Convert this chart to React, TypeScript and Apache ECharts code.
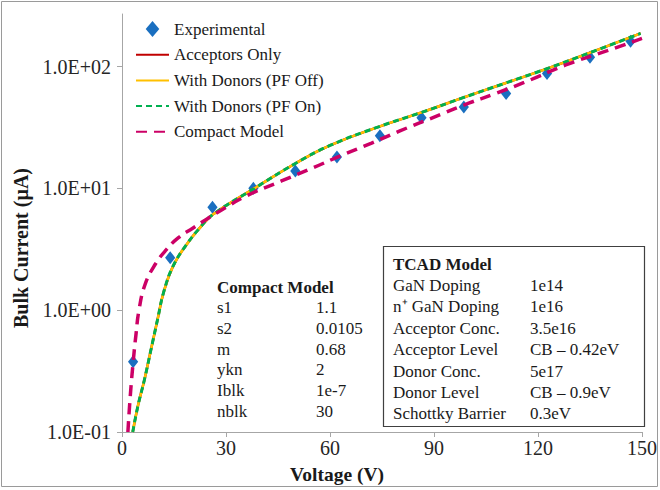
import React, { useEffect, useRef } from "react";
import * as echarts from "echarts";

// ---- data ----
const expVoltage = [3.2, 13.9, 26.1, 37.9, 50.0, 62.0, 74.4, 86.4, 98.6, 110.8, 122.6, 135.0, 146.7];
const expCurrent = [0.377, 2.7, 7.0, 10.0, 13.9, 18.1, 27, 38, 46.5, 60, 87.5, 119, 161];

const tcadVoltage = [3.1, 4.6, 6.5, 8.4, 10.3, 12.0, 14.7, 18.6, 22.4, 26.2, 38.2, 50.0, 60.0, 74.0, 86.4, 98.0, 110.5, 123.0, 135.0, 149.6];
const acceptorsOnly = [0.1, 0.164, 0.271, 0.48, 0.85, 1.4, 2.29, 3.45, 4.72, 6.1, 10.0, 16.0, 22.5, 32, 42, 55, 73, 97, 130, 187];
const donorsPfOff = [0.1, 0.164, 0.271, 0.48, 0.85, 1.4, 2.29, 3.45, 4.72, 6.1, 10.0, 16.0, 22.5, 32, 42, 55, 73, 97, 130, 187];
const donorsPfOn = [0.1, 0.164, 0.271, 0.48, 0.85, 1.4, 2.29, 3.45, 4.72, 6.1, 10.0, 16.0, 22.5, 32, 42, 55, 73, 97, 130, 187];

const compactVoltage = [1.7, 2.4, 3.2, 4.0, 4.9, 6.6, 9.5, 12.8, 16.2, 20.5, 24.3, 28.0, 36.0, 46.0, 55.0, 63.0, 72.0, 80.0, 92.0, 100.0, 107.0, 116.0, 128.0, 140.0, 150.0];
const compactCurrent = [0.1, 0.2, 0.37, 0.62, 1.0, 1.61, 2.36, 3.14, 3.92, 4.73, 5.56, 6.46, 8.7, 11.5, 14.7, 18.5, 23.5, 29.5, 40.5, 50, 59, 74, 103, 135, 170];

const yTickValues = [0.1, 1, 10, 100];
const xTicks = { min: 0, max: 150, interval: 30 };
const yRange = { min: 0.1, max: 270 };

const seriesNames = ["Experimental", "Acceptors Only", "With Donors (PF Off)", "With Donors (PF On)", "Compact Model"];

const compactTitle = "Compact Model";
const compactParams = ["s1", "s2", "m", "ykn", "Iblk", "nblk"];
const compactValues = ["1.1", "0.0105", "0.68", "2", "1e-7", "30"];

const tcadTitle = "TCAD Model";
const tcadParams = ["GaN Doping", "n\u207A GaN Doping", "Acceptor Conc.", "Acceptor Level", "Donor Conc.", "Donor Level", "Schottky Barrier"];
const tcadValues = ["1e14", "1e16", "3.5e16", "CB \u2013 0.42eV", "5e17", "CB \u2013 0.9eV", "0.3eV"];

const xAxisTitle = "Voltage (V)";
const yAxisTitle = "Bulk Current (\u00B5A)";

// ---- helpers ----
const zip = (xs: number[], ys: number[]) => xs.map((x, i) => [x, ys[i]]);
const SERIF = "Liberation Serif";

function sciLabel(v: number): string {
  const e = Math.round(Math.log10(v));
  const m = v / Math.pow(10, e);
  const sign = e < 0 ? "-" : "+";
  return m.toFixed(1) + "E" + sign + String(Math.abs(e)).padStart(2, "0");
}

export default function App() {
  const ref = useRef<HTMLDivElement>(null);

  useEffect(() => {
    if (!ref.current) return;
    const chart = echarts.init(ref.current, undefined, { renderer: "svg" });

    const txt = (text: string, x: number, y: number, size: number, bold = false, extra: any = {}) => ({
      type: "text",
      x,
      y,
      z: 10,
      ...extra,
      style: {
        text,
        fontFamily: SERIF,
        fontSize: size,
        fontWeight: bold ? "bold" : "normal",
        fill: "#1a1a1a",
        textAlign: extra.align || "left",
        textVerticalAlign: "middle",
      },
    });

    const graphics: any[] = [];
    graphics.push({
      type: "rect",
      shape: { x: 1.5, y: 1.5, width: 656, height: 485 },
      style: { fill: "none", stroke: "#9a9a9a", lineWidth: 1 },
      silent: true,
      z: 0,
    });
    graphics.push(txt(xAxisTitle, 337, 474, 19.5, true, { align: "center" }));
    graphics.push(txt(yAxisTitle, 21, 248, 20, true, { align: "center", rotation: Math.PI / 2 }));

    // Compact model table (no border)
    const cx0 = 217, cx1 = 316, cy0 = 287, cdy = 20.7;
    graphics.push(txt(compactTitle, cx0, cy0, 17, true));
    compactParams.forEach((p, i) => {
      graphics.push(txt(p, cx0, cy0 + cdy * (i + 1), 17));
      graphics.push(txt(compactValues[i], cx1, cy0 + cdy * (i + 1), 17));
    });

    // TCAD table (boxed)
    graphics.push({
      type: "rect",
      shape: { x: 383.5, y: 246.5, width: 261, height: 180 },
      style: { fill: "#ffffff", stroke: "#404040", lineWidth: 1.2 },
      z: 9,
    });
    const tx0 = 393, tx1 = 530, ty0 = 264, tdy = 21.4;
    graphics.push(txt(tcadTitle, tx0, ty0, 17, true));
    tcadParams.forEach((p, i) => {
      graphics.push(txt(p, tx0, ty0 + tdy * (i + 1), 17));
      graphics.push(txt(tcadValues[i], tx1, ty0 + tdy * (i + 1), 17));
    });

    const axisColor = "#a6a6a6";
    const labelColor = "#262626";

    const lineBase = { type: "line", smooth: 0.45, symbol: "none" };

    chart.setOption({
      animation: false,
      backgroundColor: "#ffffff",
      textStyle: { fontFamily: SERIF },
      grid: { left: 122, right: 15, top: 14, bottom: 58 },
      legend: {
        orient: "vertical",
        left: 135,
        top: 20.5,
        padding: 0,
        itemWidth: 33,
        itemHeight: 16,
        itemGap: 8.7,
        itemStyle: { opacity: 0 },
        data: [
          { name: seriesNames[0], itemStyle: { opacity: 1 } },
          seriesNames[1],
          seriesNames[2],
          seriesNames[3],
          seriesNames[4],
        ],
        textStyle: { fontFamily: SERIF, fontSize: 17, color: "#1a1a1a", lineHeight: 17 },
        selectedMode: false,
      },
      xAxis: {
        type: "value",
        min: xTicks.min,
        max: xTicks.max,
        interval: xTicks.interval,
        axisLine: { show: true, lineStyle: { color: axisColor, width: 1 } },
        axisTick: { show: true, length: 5, lineStyle: { color: axisColor } },
        axisLabel: { color: labelColor, fontSize: 20, fontFamily: SERIF, margin: 6 },
        splitLine: { show: false },
      },
      yAxis: {
        type: "log",
        logBase: 10,
        min: yRange.min,
        max: yRange.max,
        axisLine: { show: true, lineStyle: { color: axisColor, width: 1 } },
        axisTick: { show: true, length: 5, lineStyle: { color: axisColor }, customValues: yTickValues },
        axisLabel: {
          color: labelColor,
          fontSize: 20,
          fontFamily: SERIF,
          margin: 11,
          customValues: yTickValues,
          formatter: (v: number) => sciLabel(v),
        },
        splitLine: { show: false },
        minorTick: { show: false },
      },
      graphic: graphics,
      series: [
        {
          name: seriesNames[0],
          type: "scatter",
          data: zip(expVoltage, expCurrent),
          symbol: "path://M0,-1L0.85,0L0,1L-0.85,0Z",
          symbolKeepAspect: true,
          symbolSize: [12, 13],
          itemStyle: { color: "#1A6FC0", opacity: 1 },
          z: 3,
        },
        {
          ...lineBase,
          name: seriesNames[1],
          data: zip(tcadVoltage, acceptorsOnly),
          lineStyle: { color: "#C00000", width: 2.5 },
          itemStyle: { color: "#C00000" },
          z: 4,
        },
        {
          ...lineBase,
          name: seriesNames[2],
          data: zip(tcadVoltage, donorsPfOff),
          lineStyle: { color: "#FFC000", width: 2.5 },
          itemStyle: { color: "#FFC000" },
          z: 5,
        },
        {
          ...lineBase,
          name: seriesNames[3],
          data: zip(tcadVoltage, donorsPfOn),
          lineStyle: { color: "#00B050", width: 3, type: [6, 4] },
          itemStyle: { color: "#00B050" },
          z: 6,
        },
        {
          ...lineBase,
          name: seriesNames[4],
          data: zip(compactVoltage, compactCurrent),
          lineStyle: { color: "#CC0066", width: 3.5, type: [11, 7] },
          itemStyle: { color: "#CC0066" },
          z: 7,
        },
      ],
    });

    return () => chart.dispose();
  }, []);

  return (
    <div
      ref={ref}
      style={{ position: "fixed", left: 0, top: 0, width: 660, height: 490, background: "#fff" }}
    />
  );
}
